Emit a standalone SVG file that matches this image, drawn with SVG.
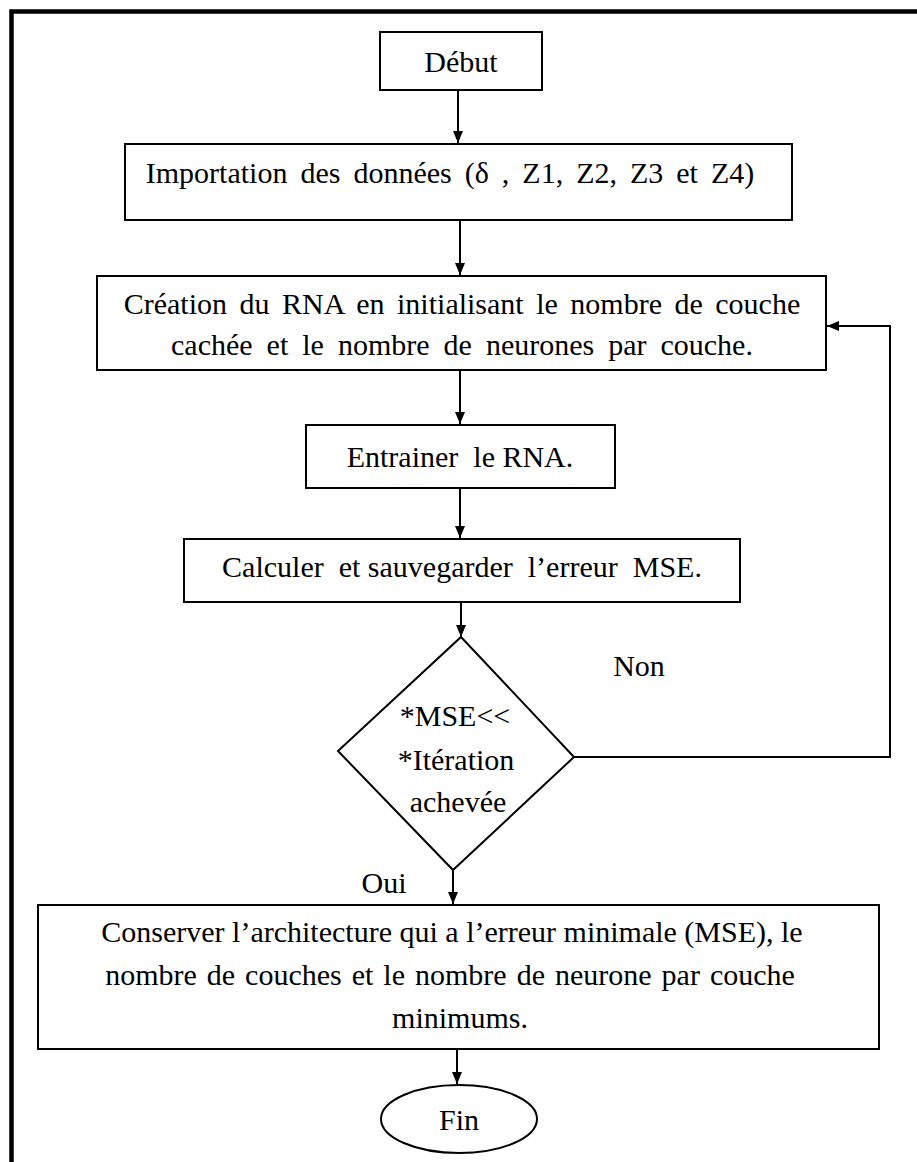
<svg xmlns="http://www.w3.org/2000/svg" width="917" height="1162" viewBox="0 0 917 1162">
  <style>
    .box { fill: #fff; stroke: #000; stroke-width: 2; }
    .frame { fill: none; stroke: #000; stroke-width: 4.5; }
    .lbl { font-size: 30px; fill: #000; text-anchor: middle; }
    .edge { fill: none; stroke: #000; stroke-width: 2; }
  </style>
  <defs>
    <marker id="arrow" markerWidth="12" markerHeight="10" refX="12" refY="5" orient="auto" markerUnits="userSpaceOnUse">
      <path d="M0,0 L12,5 L0,10 Z" fill="#000"/>
    </marker>
  </defs>
  <rect width="917" height="1162" fill="#fff"/>
  <!-- page frame: left and top edges -->
  <path class="frame" d="M11.5,1162 V11.5 H917"/>

  <g id="connectors">
    <line class="edge" x1="458" y1="90" x2="458" y2="143" marker-end="url(#arrow)"/>
    <line class="edge" x1="460" y1="220" x2="460" y2="275" marker-end="url(#arrow)"/>
    <line class="edge" x1="460" y1="370" x2="460" y2="424" marker-end="url(#arrow)"/>
    <line class="edge" x1="460" y1="488" x2="460" y2="538" marker-end="url(#arrow)"/>
    <line class="edge" x1="461" y1="602" x2="461" y2="637" marker-end="url(#arrow)"/>
    <polyline class="edge" points="574,757 890,757 890,326 827,326" marker-end="url(#arrow)"/>
    <line class="edge" x1="453" y1="870" x2="453" y2="904" marker-end="url(#arrow)"/>
    <line class="edge" x1="457" y1="1049" x2="457" y2="1084" marker-end="url(#arrow)"/>
  </g>

  <g font-family="'Liberation Serif', 'DejaVu Serif', serif">
  <g id="debut">
    <rect class="box" x="380" y="32" width="162" height="58"/>
    <text class="lbl" x="461" y="72">Début</text>
  </g>

  <g id="importation">
    <rect class="box" x="125" y="144" width="667" height="76"/>
    <text class="lbl" x="450" y="183" word-spacing="5.5">Importation des données (δ , Z1, Z2, Z3 et Z4)</text>
  </g>

  <g id="creation">
    <rect class="box" x="97" y="276" width="729" height="94"/>
    <text class="lbl" x="462" y="314" word-spacing="5">Création du RNA en initialisant le nombre de couche</text>
    <text class="lbl" x="462" y="355" word-spacing="6.5">cachée et le nombre de neurones par couche.</text>
  </g>

  <g id="entrainer">
    <rect class="box" x="306" y="425" width="309" height="63"/>
    <text class="lbl" x="460" y="467" xml:space="preserve">Entrainer  le RNA.</text>
  </g>

  <g id="calculer">
    <rect class="box" x="184" y="539" width="556" height="63"/>
    <text class="lbl" x="462" y="577" xml:space="preserve">Calculer  et sauvegarder  l’erreur  MSE.</text>
  </g>

  <g id="decision">
    <polygon class="box" points="461,637 574,757 453,870 338,751"/>
    <text class="lbl" x="455" y="726">*MSE&lt;&lt;</text>
    <text class="lbl" x="456" y="770">*Itération</text>
    <text class="lbl" x="458" y="812">achevée</text>
    <text class="lbl" x="639" y="676">Non</text>
    <text class="lbl" x="384" y="893">Oui</text>
  </g>

  <g id="conserver">
    <rect class="box" x="38" y="905" width="841" height="144"/>
    <text class="lbl" x="452" y="942">Conserver l’architecture qui a l’erreur minimale (MSE), le</text>
    <text class="lbl" x="450" y="985" word-spacing="2.5">nombre de couches et le nombre de neurone par couche</text>
    <text class="lbl" x="460" y="1028">minimums.</text>
  </g>

  <g id="fin">
    <ellipse class="box" cx="459" cy="1119" rx="78" ry="34"/>
    <text class="lbl" x="459" y="1130">Fin</text>
  </g>
  </g>
</svg>
